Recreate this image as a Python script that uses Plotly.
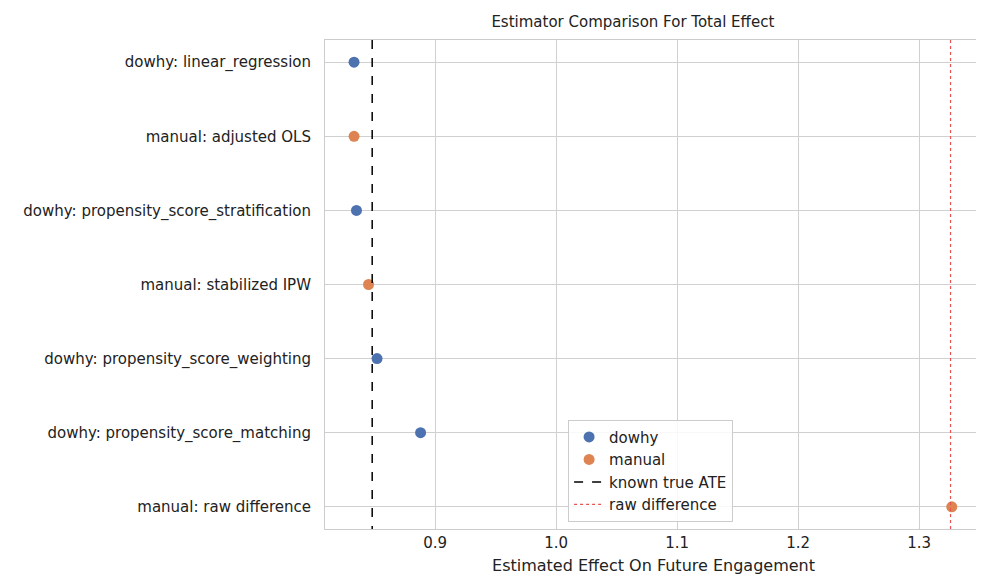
import plotly.graph_objects as go

# estimator rows, top to bottom
labels = ["dowhy: linear_regression", "manual: adjusted OLS",
          "dowhy: propensity_score_stratification", "manual: stabilized IPW",
          "dowhy: propensity_score_weighting", "dowhy: propensity_score_matching",
          "manual: raw difference"]
sources = ["dowhy", "manual", "dowhy", "manual", "dowhy", "dowhy", "manual"]
estimates = [0.833, 0.833, 0.835, 0.845, 0.852, 0.888, 1.327]
true_ate = 0.848
raw_diff = 1.326

colors = {"dowhy": "#4C72B0", "manual": "#DD8452"}
pos = list(range(len(labels)))

fig = go.Figure()
for src in ["dowhy", "manual"]:
    xs = [e for e, s in zip(estimates, sources) if s == src]
    ys = [p for p, s in zip(pos, sources) if s == src]
    fig.add_trace(go.Scatter(x=xs, y=ys, mode="markers", name=src,
                             marker=dict(color=colors[src], size=11)))

fig.add_trace(go.Scatter(x=[true_ate, true_ate], y=[-0.3, 6.3], mode="lines",
                         name="known true ATE", line=dict(color="black", dash="dash", width=1.5)))
fig.add_trace(go.Scatter(x=[raw_diff, raw_diff], y=[-0.3, 6.3], mode="lines",
                         name="raw difference", line=dict(color="#e8534f", dash="dot", width=1.2)))

fig.update_layout(
    width=984, height=584, plot_bgcolor="white", paper_bgcolor="white",
    font=dict(family="DejaVu Sans", size=15, color="#222"),
    margin=dict(l=317, r=10, t=32, b=63, autoexpand=False),
    title=dict(text="Estimator Comparison For Total Effect", x=0.635, xanchor="center",
               y=0.985, yanchor="top", font=dict(size=15)),
    showlegend=True,
    legend=dict(x=0.37, y=0.015, xanchor="left", yanchor="bottom",
                bordercolor="#ccc", borderwidth=1, bgcolor="rgba(255,255,255,0.85)",
                font=dict(size=15)),
)
fig.update_xaxes(range=[0.809, 1.352], tickvals=[0.9, 1.0, 1.1, 1.2, 1.3],
                 ticktext=["0.9", "1.0", "1.1", "1.2", "1.3"], automargin=False,
                 showgrid=True, gridcolor="#d0d0d0", zeroline=False,
                 showline=True, linecolor="#ccc", mirror=True,
                 title=dict(text="Estimated Effect On Future Engagement", font=dict(size=16),
                            standoff=8))
fig.update_yaxes(range=[6.3, -0.3], tickvals=pos, ticktext=labels, automargin=False,
                 showgrid=True, gridcolor="#d0d0d0", zeroline=False,
                 showline=True, linecolor="#ccc", mirror=True, ticks="outside", ticklen=10,
                 tickcolor="white")

fig.write_html("out.html")
